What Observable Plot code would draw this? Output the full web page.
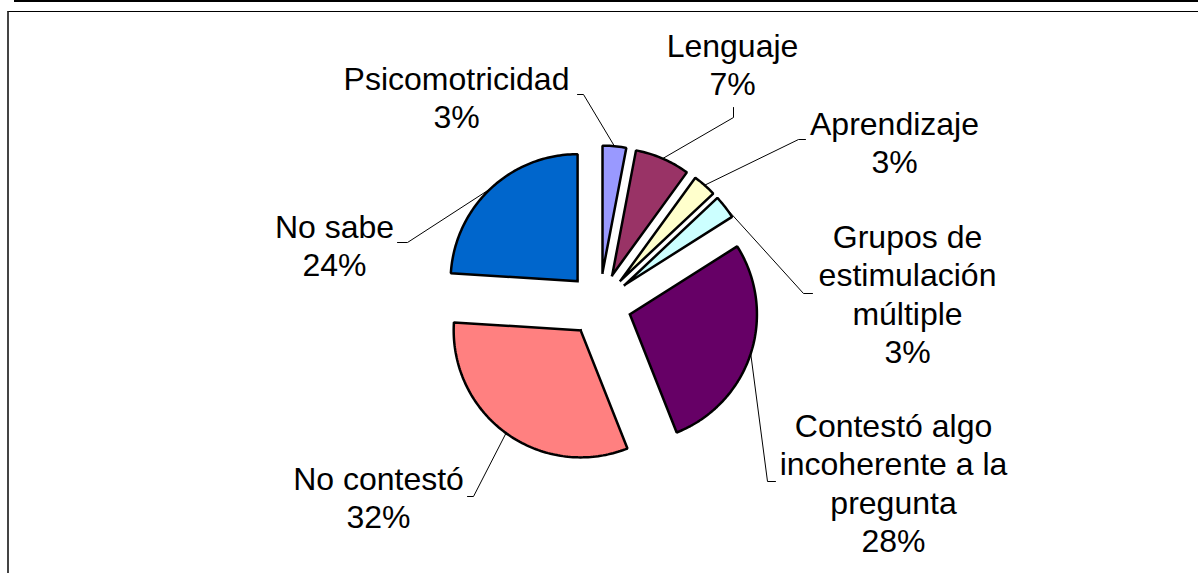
<!DOCTYPE html>
<html>
<head>
<meta charset="utf-8">
<script src="https://cdn.jsdelivr.net/npm/d3@7"></script>
<script src="https://cdn.jsdelivr.net/npm/@observablehq/plot@0.6"></script>
<style>
  html, body { margin: 0; padding: 0; background: #fff; }
  #wrap { position: relative; width: 1198px; height: 573px; overflow: hidden; }
  #topline { position: absolute; left: 14px; right: 0; top: 0; height: 0; border-top: 2px solid #000; }
  #box { position: absolute; left: 7px; right: -4px; top: 11px; bottom: -4px; border-top: 1px solid #000; border-left: 2px solid #444; }
  #chart { position: absolute; left: 0; top: 0; }
</style>
</head>
<body>
<div id="wrap">
  <div id="topline"></div>
  <div id="box"></div>
  <div id="chart"></div>
</div>
<script>
// ---- data ----
const categories = [
  "Psicomotricidad",
  "Lenguaje",
  "Aprendizaje",
  "Grupos de estimulación múltiple",
  "Contestó algo incoherente a la pregunta",
  "No contestó",
  "No sabe"
];
const percents = [3, 7, 3, 3, 28, 32, 24];
const labelNames = [
  "Psicomotricidad",
  "Lenguaje",
  "Aprendizaje",
  "Grupos de\nestimulación\nmúltiple",
  "Contestó algo\nincoherente a la\npregunta",
  "No contestó",
  "No sabe"
];
const sliceColors = ["#9999FF", "#993366", "#FFFFCC", "#CCFFFF", "#660066", "#FF8080", "#0066CC"];

// ---- layout (pixels) ----
const W = 1198, H = 573;
const center = [599, 304], radius = 127, explode = 32;
// label anchor (center x, top of first line) and leader end + elbow
const labelPos = [[456, 62], [732, 29], [894, 107], [907, 220], [893, 409], [378, 462], [334, 210]];
const leaderEnd = [[577, 94], [733, 107], [805, 139], [812, 293], [775, 481], [467, 496], [397, 242]];
const leaderElbow = [[583, 94], [733, 117], [798, 139], [803, 293], [767, 481], [473, 496], [407, 242]];

const arcs = d3.pie().sort(null).value(d => d)(percents);
const pt = (a, r, o) => [o[0] + r * Math.sin(a), o[1] - r * Math.cos(a)];

const slicePts = [];
const leaderPts = [];
arcs.forEach((a, i) => {
  const cat = categories[i];
  const mid = (a.startAngle + a.endAngle) / 2;
  const apex = pt(mid, explode, center);
  slicePts.push({cat, x: apex[0], y: apex[1]});
  const n = Math.max(8, Math.ceil((a.endAngle - a.startAngle) / 0.02));
  for (let k = 0; k <= n; k++) {
    const ang = a.startAngle + (a.endAngle - a.startAngle) * k / n;
    const p = pt(ang, radius, apex);
    slicePts.push({cat, x: p[0], y: p[1]});
  }
  slicePts.push({cat, x: apex[0], y: apex[1]});
  const s = pt(mid, radius + explode, center);
  leaderPts.push({cat, x: s[0], y: s[1]});
  leaderPts.push({cat, x: leaderElbow[i][0], y: leaderElbow[i][1]});
  leaderPts.push({cat, x: leaderEnd[i][0], y: leaderEnd[i][1]});
});

const labels = categories.map((c, i) => ({
  cat: c,
  x: labelPos[i][0],
  y: labelPos[i][1],
  text: labelNames[i] + "\n" + percents[i] + "%"
}));

const chart = Plot.plot({
  width: W,
  height: H,
  margin: 0,
  x: {domain: [0, W], range: [0, W], axis: null},
  y: {domain: [0, H], range: [0, H], axis: null},
  color: {domain: categories, range: sliceColors, legend: false},
  style: {fontFamily: "'Liberation Sans', Arial, sans-serif", background: "transparent", overflow: "visible"},
  marks: [
    Plot.line(leaderPts, {x: "x", y: "y", z: "cat", stroke: "#000", strokeWidth: 1, curve: "linear"}),
    Plot.line(slicePts, {x: "x", y: "y", z: "cat", fill: "cat", stroke: "#000", strokeWidth: 2.5, strokeLinejoin: "miter", strokeLinecap: "square", curve: "linear"}),
    Plot.text(labels, {x: "x", y: "y", text: "text", fontSize: 32, lineAnchor: "top", lineHeight: 1.2, textAnchor: "middle", fill: "#000"})
  ]
});
document.getElementById("chart").appendChild(chart);
</script>
</body>
</html>
